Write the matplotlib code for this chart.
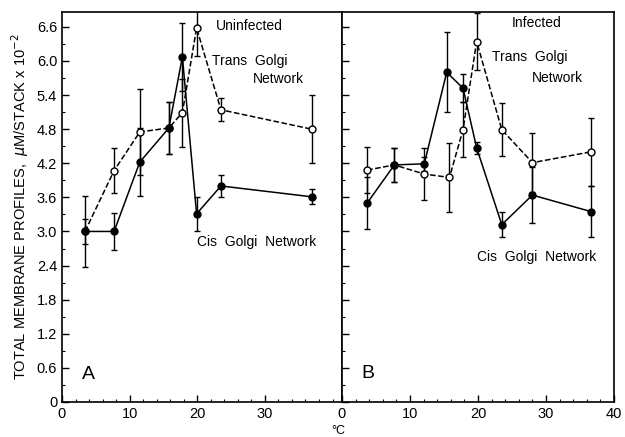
import matplotlib
matplotlib.use('Agg')
import matplotlib.pyplot as plt
import numpy as np
from matplotlib.ticker import MultipleLocator

plt.rcParams['font.family'] = ['Liberation Sans', 'DejaVu Sans']

# Panel A - uninfected
temp_a = [3.4, 7.7, 11.5, 15.8, 17.8, 19.9, 23.5, 36.9]
trans_a = [3.0, 4.07, 4.75, 4.82, 5.09, 6.58, 5.14, 4.8]
trans_a_err = [0.22, 0.4, 0.75, 0.45, 0.6, 0.5, 0.2, 0.6]
cis_a = [3.0, 3.0, 4.22, 4.82, 6.07, 3.31, 3.8, 3.61]
cis_a_err = [0.62, 0.33, 0.6, 0.45, 0.6, 0.3, 0.2, 0.13]

# Panel B - infected
temp_b = [3.7, 7.7, 12.1, 15.8, 17.8, 19.8, 23.5, 28.0, 36.6]
trans_b = [4.08, 4.17, 4.01, 3.95, 4.79, 6.34, 4.79, 4.21, 4.4]
trans_b_err = [0.4, 0.3, 0.45, 0.6, 0.48, 0.5, 0.47, 0.52, 0.6]
temp_b_cis = [3.7, 7.7, 12.1, 15.4, 17.8, 19.8, 23.5, 28.0, 36.6]
cis_b = [3.5, 4.17, 4.19, 5.8, 5.52, 4.47, 3.12, 3.64, 3.35]
cis_b_err = [0.45, 0.3, 0.12, 0.7, 0.25, 0.1, 0.22, 0.5, 0.45]

yticks = [0, 0.6, 1.2, 1.8, 2.4, 3.0, 3.6, 4.2, 4.8, 5.4, 6.0, 6.6]
ytick_labels = ['0'] + [f'{v:.1f}' for v in yticks[1:]]

fig = plt.figure(figsize=(6.25, 4.37), dpi=100)
gs = fig.add_gridspec(1, 2, width_ratios=[280, 272], wspace=0,
                      left=0.0992, right=0.9824, bottom=0.0801, top=0.9725)
ax_a = fig.add_subplot(gs[0])
ax_b = fig.add_subplot(gs[1], sharey=ax_a)


def draw(ax, xt, yt, et, xc, yc, ec):
    ax.errorbar(xt, yt, yerr=et, color='black', ls='--', lw=1.1, marker='o',
                ms=5, mfc='white', mec='black', mew=1.0, capsize=2.5,
                elinewidth=1.0, capthick=1.0)
    ax.errorbar(xc, yc, yerr=ec, color='black', ls='-', lw=1.1, marker='o',
                ms=5, mfc='black', mec='black', capsize=2.5,
                elinewidth=1.0, capthick=1.0)


draw(ax_a, temp_a, trans_a, trans_a_err, temp_a, cis_a, cis_a_err)
draw(ax_b, temp_b, trans_b, trans_b_err, temp_b_cis, cis_b, cis_b_err)

ax_a.set_xlim(0, 41.4)
ax_b.set_xlim(0, 40)
ax_a.set_ylim(0, 6.86)

for ax in (ax_a, ax_b):
    ax.xaxis.set_major_locator(MultipleLocator(10))
    ax.xaxis.set_minor_locator(MultipleLocator(2))
    ax.set_yticks(yticks)
    ax.yaxis.set_minor_locator(MultipleLocator(0.3))
    ax.tick_params(which='major', direction='in', length=5, width=1.0,
                   labelsize=10.5, top=False, right=False)
    ax.tick_params(which='minor', direction='in', length=2.5, width=0.8,
                   top=False, right=False)
    for s in ax.spines.values():
        s.set_linewidth(1.2)

ax_a.set_xticks([0, 10, 20, 30])
ax_a.set_yticklabels(ytick_labels)
ax_b.set_xticks([0, 10, 20, 30, 40])
ax_b.tick_params(axis='y', labelleft=False)

ax_a.set_ylabel(r'TOTAL MEMBRANE PROFILES,  $\mu$M/STACK x 10$^{-2}$',
                fontsize=10.5)
fig.text(0.541, 0.0, '°C', ha='center', va='bottom', fontsize=9)

# annotations panel A
ax_a.text(22.7, 6.62, 'Uninfected', fontsize=10, va='center')
ax_a.text(22.2, 6.0, 'Trans  Golgi', fontsize=10, va='center')
ax_a.text(35.8, 5.68, 'Network', fontsize=10, va='center', ha='right')
ax_a.text(20.0, 2.82, 'Cis  Golgi  Network', fontsize=10, va='center')
ax_a.text(3.0, 0.48, 'A', fontsize=14, va='center')

# annotations panel B
ax_b.text(25.0, 6.66, 'Infected', fontsize=10, va='center')
ax_b.text(22.0, 6.06, 'Trans  Golgi', fontsize=10, va='center')
ax_b.text(35.5, 5.7, 'Network', fontsize=10, va='center', ha='right')
ax_b.text(19.8, 2.55, 'Cis  Golgi  Network', fontsize=10, va='center')
ax_b.text(2.8, 0.5, 'B', fontsize=14, va='center')

fig.savefig('out.png', dpi=100)
